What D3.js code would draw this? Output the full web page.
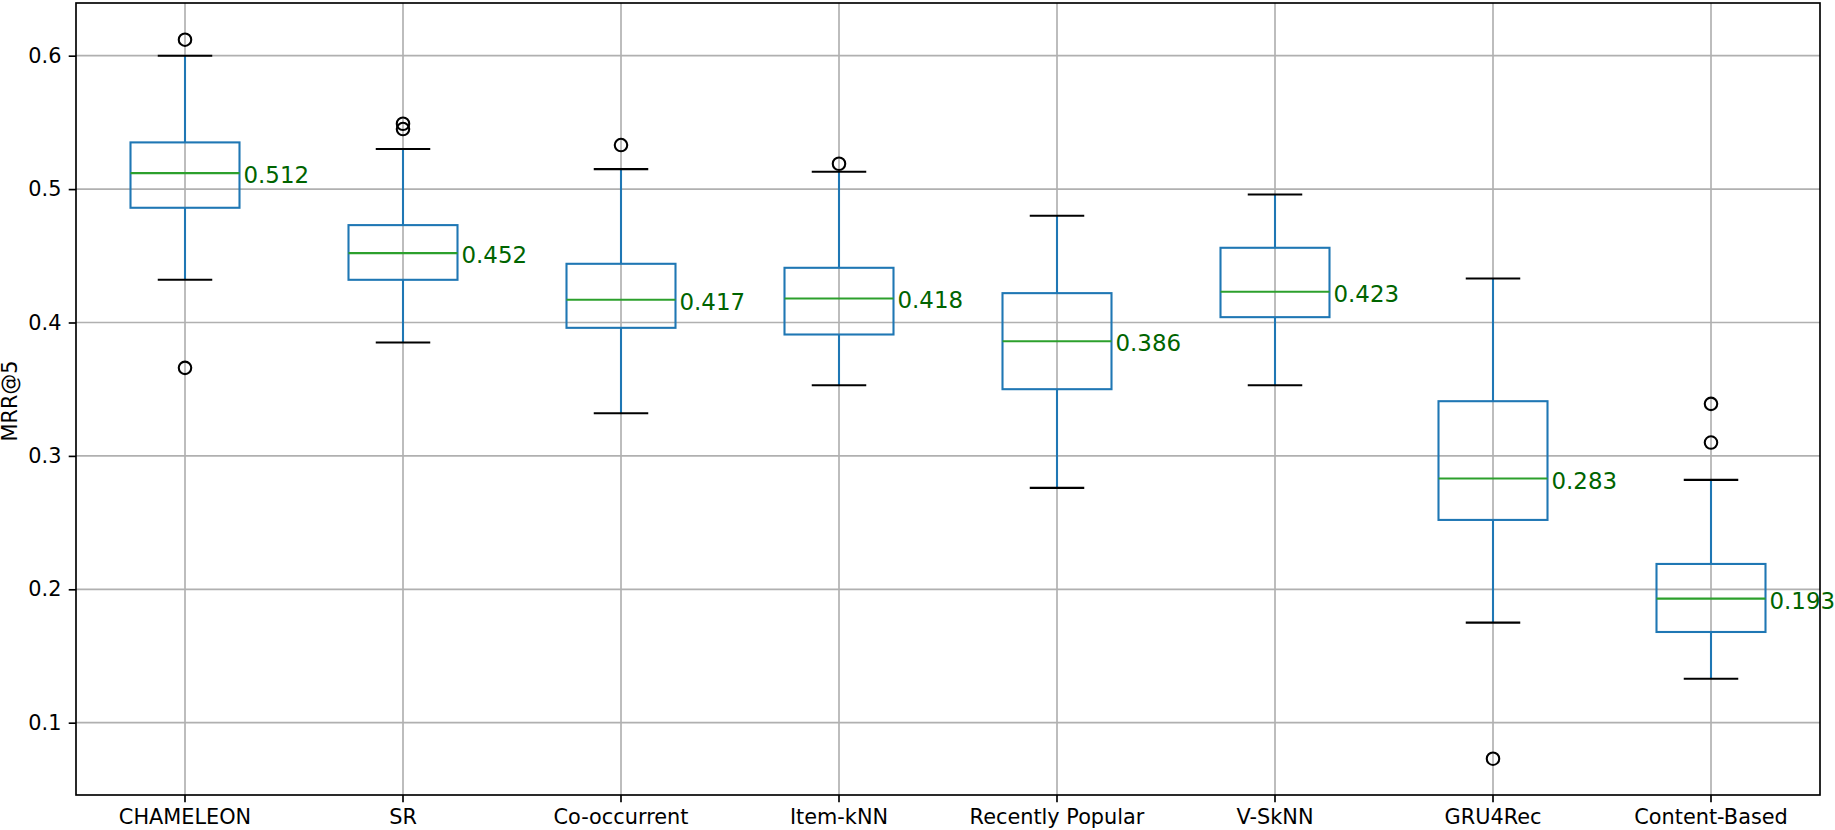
<!DOCTYPE html>
<html>
<head>
<meta charset="utf-8">
<script src="https://cdn.jsdelivr.net/npm/d3@7"></script>
<style>
  html, body { margin: 0; padding: 0; background: #fff; }
  svg { display: block; font-family: "DejaVu Sans", sans-serif; }
</style>
</head>
<body>
<svg id="chart" width="1835" height="830"></svg>
<script>
const categories = ["CHAMELEON", "SR", "Co-occurrent", "Item-kNN", "Recently Popular", "V-SkNN", "GRU4Rec", "Content-Based"];
const whiskerLow  = [0.432, 0.385, 0.332, 0.353, 0.276, 0.353, 0.175, 0.133];
const q1          = [0.486, 0.432, 0.396, 0.391, 0.350, 0.404, 0.252, 0.168];
const medians     = [0.512, 0.452, 0.417, 0.418, 0.386, 0.423, 0.283, 0.193];
const q3          = [0.535, 0.473, 0.444, 0.441, 0.422, 0.456, 0.341, 0.219];
const whiskerHigh = [0.600, 0.530, 0.515, 0.513, 0.480, 0.496, 0.433, 0.282];
const outliers    = [[0.612, 0.366], [0.549, 0.545], [0.533], [0.519], [], [], [0.073], [0.339, 0.310]];
const yTicks      = [0.1, 0.2, 0.3, 0.4, 0.5, 0.6];
const yLabel      = "MRR@5";

(function () {
const mLeft = 76, mRight = 1820, mTop = 3, mBottom = 795;
const pt = 150 / 72;

const svg = d3.select("#chart");
const x = d3.scaleBand().domain(categories).range([mLeft, mRight]).padding(0);
const y = d3.scaleLinear().domain([0.0458, 0.6395]).range([mBottom, mTop]);
const bw = x.bandwidth();
const cx = c => x(c) + bw / 2;

// grid
const grid = svg.append("g").attr("class", "grid");
grid.selectAll("line.h").data(yTicks).join("line").attr("class", "h")
  .attr("x1", mLeft).attr("x2", mRight)
  .attr("y1", d => y(d)).attr("y2", d => y(d))
  .attr("stroke", "#b0b0b0").attr("stroke-width", 0.8 * pt);
grid.selectAll("line.v").data(categories).join("line").attr("class", "v")
  .attr("x1", d => cx(d)).attr("x2", d => cx(d))
  .attr("y1", mTop).attr("y2", mBottom)
  .attr("stroke", "#b0b0b0").attr("stroke-width", 0.8 * pt);

const data = categories.map((c, i) => ({
  c, lo: whiskerLow[i], q1: q1[i], med: medians[i], q3: q3[i], hi: whiskerHigh[i], out: outliers[i]
}));

const g = svg.append("g").selectAll("g").data(data).join("g");
const lw = 1.0 * pt;
// whiskers
g.append("line").attr("x1", d => cx(d.c)).attr("x2", d => cx(d.c))
  .attr("y1", d => y(d.q3)).attr("y2", d => y(d.hi))
  .attr("stroke", "#1f77b4").attr("stroke-width", lw);
g.append("line").attr("x1", d => cx(d.c)).attr("x2", d => cx(d.c))
  .attr("y1", d => y(d.q1)).attr("y2", d => y(d.lo))
  .attr("stroke", "#1f77b4").attr("stroke-width", lw);
// caps
["hi", "lo"].forEach(k => {
  g.append("line").attr("x1", d => cx(d.c) - bw * 0.125).attr("x2", d => cx(d.c) + bw * 0.125)
    .attr("y1", d => y(d[k])).attr("y2", d => y(d[k]))
    .attr("stroke", "#000").attr("stroke-width", lw);
});
// box
g.append("rect").attr("x", d => cx(d.c) - bw * 0.25).attr("width", bw * 0.5)
  .attr("y", d => y(d.q3)).attr("height", d => y(d.q1) - y(d.q3))
  .attr("fill", "none").attr("stroke", "#1f77b4").attr("stroke-width", lw);
// median
g.append("line").attr("x1", d => cx(d.c) - bw * 0.25).attr("x2", d => cx(d.c) + bw * 0.25)
  .attr("y1", d => y(d.med)).attr("y2", d => y(d.med))
  .attr("stroke", "#2ca02c").attr("stroke-width", lw);
// fliers
g.each(function (d) {
  d3.select(this).selectAll("circle").data(d.out).join("circle")
    .attr("cx", cx(d.c)).attr("cy", v => y(v)).attr("r", 3 * pt)
    .attr("fill", "none").attr("stroke", "#000").attr("stroke-width", lw);
});
// median labels
g.append("text").attr("x", d => cx(d.c) + bw * 0.25 + 4)
  .attr("y", d => y(d.med) + 10)
  .attr("fill", "#006400").attr("font-size", 11 * pt)
  .text(d => d.med.toFixed(3));

// axes
const yAxis = svg.append("g").attr("transform", `translate(${mLeft},0)`)
  .call(d3.axisLeft(y).tickValues(yTicks).tickFormat(d3.format(".1f")).tickSize(3.5 * pt).tickPadding(3.5 * pt));
const xAxis = svg.append("g").attr("transform", `translate(0,${mBottom})`)
  .call(d3.axisBottom(x).tickSize(3.5 * pt).tickPadding(3.5 * pt));
[yAxis, xAxis].forEach(a => {
  a.select(".domain").remove();
  a.selectAll(".tick line").attr("stroke", "#000").attr("stroke-width", 0.8 * pt);
  a.selectAll(".tick text").attr("fill", "#000").attr("font-size", 10 * pt)
    .attr("font-family", "DejaVu Sans, sans-serif");
});

// spines
svg.append("rect").attr("x", mLeft).attr("y", mTop).attr("width", mRight - mLeft).attr("height", mBottom - mTop)
  .attr("fill", "none").attr("stroke", "#000").attr("stroke-width", 0.8 * pt);

// y label
svg.append("text").attr("transform", `translate(17,${(mTop + mBottom) / 2 + 2}) rotate(-90)`)
  .attr("text-anchor", "middle").attr("font-size", 10 * pt).attr("fill", "#000")
  .text(yLabel);
})();
</script>
</body>
</html>
